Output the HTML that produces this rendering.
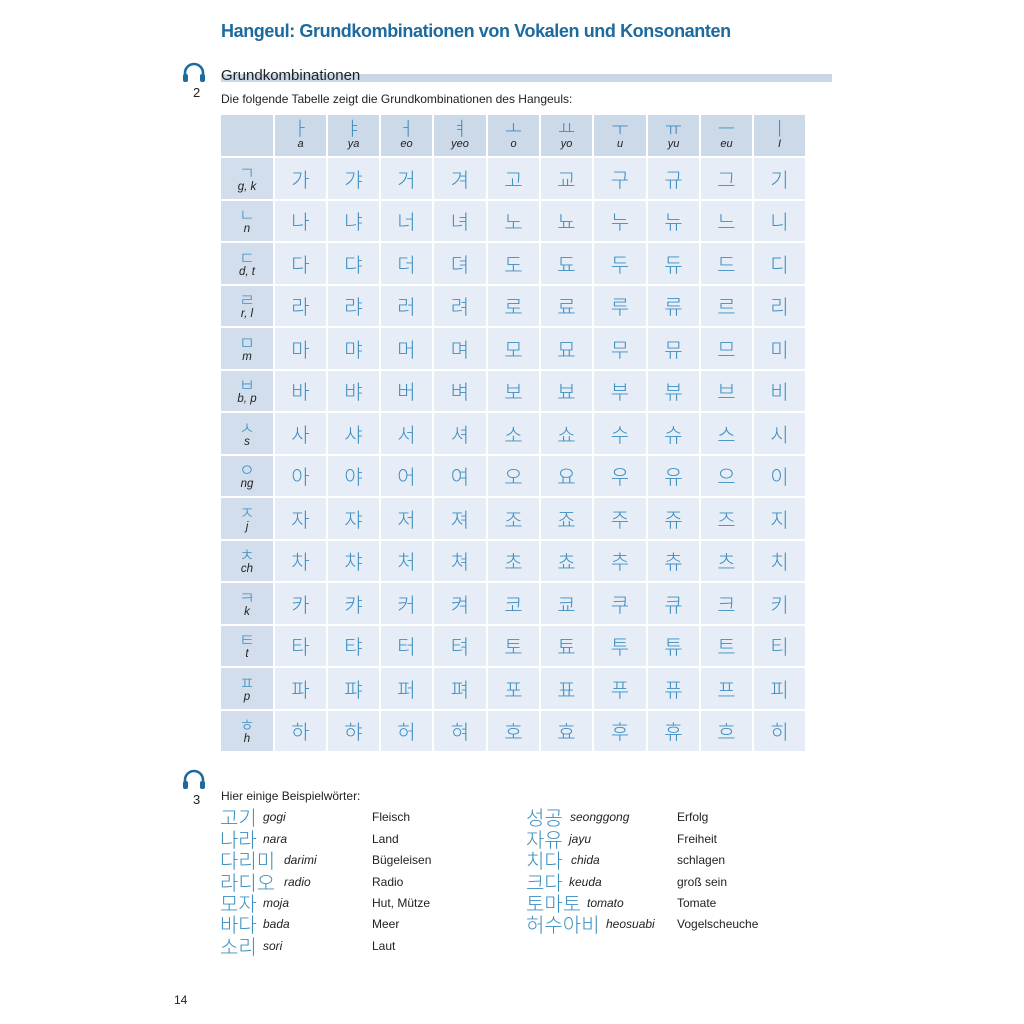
<!DOCTYPE html>
<html><head><meta charset="utf-8">
<style>
body{margin:0;width:1024px;height:1024px;background:#fff;position:relative;font-family:"Liberation Sans","Noto Sans CJK KR",sans-serif;color:#222;overflow:hidden}
.a{position:absolute;white-space:nowrap}
.title{left:221px;top:21px;font-size:18px;font-weight:bold;color:#1d6a9e;letter-spacing:-0.4px}
.bar{left:221px;top:74px;width:611px;height:8px;background:#c9d7e8}
.sub{left:221px;top:67px;font-size:15px;color:#222}
.intro{left:221px;top:92px;font-size:12px}
table{position:absolute;left:219px;top:113px;border-collapse:separate;border-spacing:2px;table-layout:fixed}
td{padding:0;text-align:center;vertical-align:middle}
tr.h td{height:41px;background:#ccd9e8}
tr.h td .v{display:block;font-size:19px;color:#3b8cc0;line-height:20px;font-family:"Noto Sans CJK KR",sans-serif;font-weight:300;margin-top:-2px}
tr.h td .r{display:block;font-size:11px;font-style:italic;line-height:13px}
tr.b td{height:40.5px;background:#e6edf6;font-size:20px;color:#3d8ec1;font-family:"Noto Sans CJK KR",sans-serif;font-weight:300}
tr.b td.c{background:#d3deec}
td.c .v{display:block;font-size:17px;color:#3b8cc0;line-height:17px;font-weight:300}
td.c .r{display:block;font-size:11.5px;font-style:italic;color:#222;line-height:14px;font-family:"Liberation Sans",sans-serif}
.ico{font-size:13px}
.w{font-size:12px}
.k{font-family:"Noto Sans CJK KR",sans-serif;font-size:20px;color:#3d8ec1;font-weight:300;line-height:24px}
.i{font-style:italic;font-size:12px}
</style></head><body>
<div class="a title">Hangeul: Grundkombinationen von Vokalen und Konsonanten</div>
<div class="a bar"></div>
<div class="a sub">Grundkombinationen</div>
<svg class="a" style="left:181px;top:61px" width="26" height="24" viewBox="0 0 26 24"><path d="M4 18 V12 a9 9 0 0 1 18 0 V18" fill="none" stroke="#1d6a9e" stroke-width="2.6"/><rect x="2" y="13" width="5" height="8" rx="2" fill="#1d6a9e"/><rect x="19" y="13" width="5" height="8" rx="2" fill="#1d6a9e"/></svg>
<div class="a ico" style="left:193px;top:85px">2</div>
<div class="a intro">Die folgende Tabelle zeigt die Grundkombinationen des Hangeuls:</div>
<table>
<colgroup><col style="width:52px"><col style="width:51px"><col style="width:51px"><col style="width:51px"><col style="width:52px"><col style="width:51px"><col style="width:51px"><col style="width:52px"><col style="width:51px"><col style="width:51px"><col style="width:51px"></colgroup>
<tr class="h"><td></td><td><span class="v">ㅏ</span><span class="r">a</span></td><td><span class="v">ㅑ</span><span class="r">ya</span></td><td><span class="v">ㅓ</span><span class="r">eo</span></td><td><span class="v">ㅕ</span><span class="r">yeo</span></td><td><span class="v">ㅗ</span><span class="r">o</span></td><td><span class="v">ㅛ</span><span class="r">yo</span></td><td><span class="v">ㅜ</span><span class="r">u</span></td><td><span class="v">ㅠ</span><span class="r">yu</span></td><td><span class="v">ㅡ</span><span class="r">eu</span></td><td><span class="v">ㅣ</span><span class="r">I</span></td></tr>
<tr class="b"><td class="c"><span class="v">ㄱ</span><span class="r">g, k</span></td><td>가</td><td>갸</td><td>거</td><td>겨</td><td>고</td><td>교</td><td>구</td><td>규</td><td>그</td><td>기</td></tr>
<tr class="b"><td class="c"><span class="v">ㄴ</span><span class="r">n</span></td><td>나</td><td>냐</td><td>너</td><td>녀</td><td>노</td><td>뇨</td><td>누</td><td>뉴</td><td>느</td><td>니</td></tr>
<tr class="b"><td class="c"><span class="v">ㄷ</span><span class="r">d, t</span></td><td>다</td><td>댜</td><td>더</td><td>뎌</td><td>도</td><td>됴</td><td>두</td><td>듀</td><td>드</td><td>디</td></tr>
<tr class="b"><td class="c"><span class="v">ㄹ</span><span class="r">r, l</span></td><td>라</td><td>랴</td><td>러</td><td>려</td><td>로</td><td>료</td><td>루</td><td>류</td><td>르</td><td>리</td></tr>
<tr class="b"><td class="c"><span class="v">ㅁ</span><span class="r">m</span></td><td>마</td><td>먀</td><td>머</td><td>며</td><td>모</td><td>묘</td><td>무</td><td>뮤</td><td>므</td><td>미</td></tr>
<tr class="b"><td class="c"><span class="v">ㅂ</span><span class="r">b, p</span></td><td>바</td><td>뱌</td><td>버</td><td>벼</td><td>보</td><td>뵤</td><td>부</td><td>뷰</td><td>브</td><td>비</td></tr>
<tr class="b"><td class="c"><span class="v">ㅅ</span><span class="r">s</span></td><td>사</td><td>샤</td><td>서</td><td>셔</td><td>소</td><td>쇼</td><td>수</td><td>슈</td><td>스</td><td>시</td></tr>
<tr class="b"><td class="c"><span class="v">ㅇ</span><span class="r">ng</span></td><td>아</td><td>야</td><td>어</td><td>여</td><td>오</td><td>요</td><td>우</td><td>유</td><td>으</td><td>이</td></tr>
<tr class="b"><td class="c"><span class="v">ㅈ</span><span class="r">j</span></td><td>자</td><td>쟈</td><td>저</td><td>져</td><td>조</td><td>죠</td><td>주</td><td>쥬</td><td>즈</td><td>지</td></tr>
<tr class="b"><td class="c"><span class="v">ㅊ</span><span class="r">ch</span></td><td>차</td><td>챠</td><td>처</td><td>쳐</td><td>초</td><td>쵸</td><td>추</td><td>츄</td><td>츠</td><td>치</td></tr>
<tr class="b"><td class="c"><span class="v">ㅋ</span><span class="r">k</span></td><td>카</td><td>캬</td><td>커</td><td>켜</td><td>코</td><td>쿄</td><td>쿠</td><td>큐</td><td>크</td><td>키</td></tr>
<tr class="b"><td class="c"><span class="v">ㅌ</span><span class="r">t</span></td><td>타</td><td>탸</td><td>터</td><td>텨</td><td>토</td><td>툐</td><td>투</td><td>튜</td><td>트</td><td>티</td></tr>
<tr class="b"><td class="c"><span class="v">ㅍ</span><span class="r">p</span></td><td>파</td><td>퍄</td><td>퍼</td><td>펴</td><td>포</td><td>표</td><td>푸</td><td>퓨</td><td>프</td><td>피</td></tr>
<tr class="b"><td class="c"><span class="v">ㅎ</span><span class="r">h</span></td><td>하</td><td>햐</td><td>허</td><td>혀</td><td>호</td><td>효</td><td>후</td><td>휴</td><td>흐</td><td>히</td></tr>
</table>
<svg class="a" style="left:181px;top:768px" width="26" height="24" viewBox="0 0 26 24"><path d="M4 18 V12 a9 9 0 0 1 18 0 V18" fill="none" stroke="#1d6a9e" stroke-width="2.6"/><rect x="2" y="13" width="5" height="8" rx="2" fill="#1d6a9e"/><rect x="19" y="13" width="5" height="8" rx="2" fill="#1d6a9e"/></svg>
<div class="a ico" style="left:193px;top:792px">3</div>
<div class="a w" style="left:221px;top:789px">Hier einige Beispielwörter:</div>

<div class="a k" style="left:220px;top:805px">고기</div><div class="a i" style="left:263px;top:810px">gogi</div><div class="a w" style="left:372px;top:810px">Fleisch</div>
<div class="a k" style="left:220px;top:827px">나라</div><div class="a i" style="left:263px;top:832px">nara</div><div class="a w" style="left:372px;top:832px">Land</div>
<div class="a k" style="left:220px;top:848px">다리미</div><div class="a i" style="left:284px;top:853px">darimi</div><div class="a w" style="left:372px;top:853px">Bügeleisen</div>
<div class="a k" style="left:220px;top:870px">라디오</div><div class="a i" style="left:284px;top:875px">radio</div><div class="a w" style="left:372px;top:875px">Radio</div>
<div class="a k" style="left:220px;top:891px">모자</div><div class="a i" style="left:263px;top:896px">moja</div><div class="a w" style="left:372px;top:896px">Hut, Mütze</div>
<div class="a k" style="left:220px;top:912px">바다</div><div class="a i" style="left:263px;top:917px">bada</div><div class="a w" style="left:372px;top:917px">Meer</div>
<div class="a k" style="left:220px;top:934px">소리</div><div class="a i" style="left:263px;top:939px">sori</div><div class="a w" style="left:372px;top:939px">Laut</div>

<div class="a k" style="left:526px;top:805px">성공</div><div class="a i" style="left:570px;top:810px">seonggong</div><div class="a w" style="left:677px;top:810px">Erfolg</div>
<div class="a k" style="left:526px;top:827px">자유</div><div class="a i" style="left:569px;top:832px">jayu</div><div class="a w" style="left:677px;top:832px">Freiheit</div>
<div class="a k" style="left:526px;top:848px">치다</div><div class="a i" style="left:571px;top:853px">chida</div><div class="a w" style="left:677px;top:853px">schlagen</div>
<div class="a k" style="left:526px;top:870px">크다</div><div class="a i" style="left:569px;top:875px">keuda</div><div class="a w" style="left:677px;top:875px">groß sein</div>
<div class="a k" style="left:526px;top:891px">토마토</div><div class="a i" style="left:587px;top:896px">tomato</div><div class="a w" style="left:677px;top:896px">Tomate</div>
<div class="a k" style="left:526px;top:912px">허수아비</div><div class="a i" style="left:606px;top:917px">heosuabi</div><div class="a w" style="left:677px;top:917px">Vogelscheuche</div>

<div class="a w" style="left:174px;top:993px">14</div>
</body></html>
